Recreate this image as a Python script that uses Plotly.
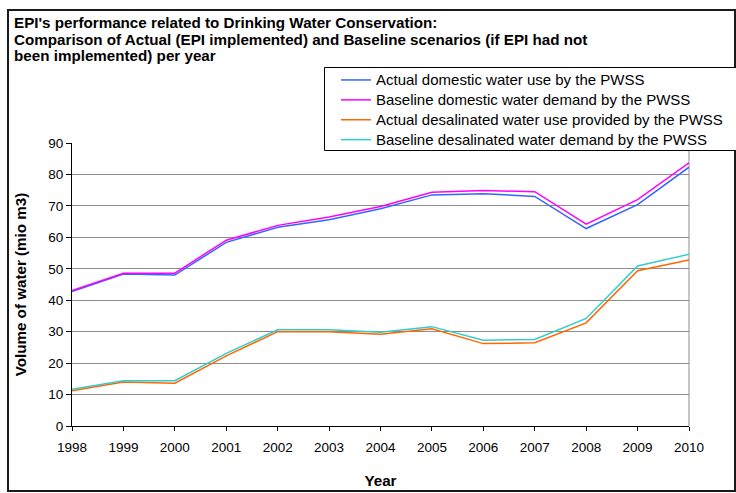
import plotly.graph_objects as go

years = [1998, 1999, 2000, 2001, 2002, 2003, 2004, 2005, 2006, 2007, 2008, 2009, 2010]
actual_domestic = [42.8, 48.3, 48.0, 58.4, 63.2, 65.6, 69.1, 73.5, 73.9, 73.0, 62.8, 70.4, 82.3]
baseline_domestic = [43.1, 48.6, 48.6, 59.1, 63.8, 66.5, 69.8, 74.3, 74.9, 74.5, 64.2, 72.0, 83.7]
actual_desal = [11.2, 14.0, 13.6, 22.3, 30.0, 30.0, 29.2, 30.9, 26.2, 26.5, 32.8, 49.4, 52.8]
baseline_desal = [11.7, 14.4, 14.4, 23.1, 30.6, 30.6, 29.8, 31.6, 27.3, 27.5, 34.2, 50.9, 54.6]

series_names = [
    "Actual domestic water use by the PWSS",
    "Baseline domestic water demand by the PWSS",
    "Actual desalinated water use provided by the PWSS",
    "Baseline desalinated water demand by the PWSS",
]
series_colors = ["#3366FF", "#FF00FF", "#FF6600", "#33CCCC"]
series_values = [actual_domestic, baseline_domestic, actual_desal, baseline_desal]

title_lines = [
    "EPI's performance related to Drinking Water Conservation:",
    "Comparison of Actual (EPI implemented) and Baseline scenarios (if EPI had not",
    "been implemented) per year",
]

FONT = "Arial, Liberation Sans, sans-serif"
W, H = 736, 493
L, R, T, B = 72, 47, 143, 67
pw, ph = W - L - R, H - T - B

def px2x(px):
    return (px - L) / pw

def py2y(py):
    return (H - B - py) / ph

fig = go.Figure()
for name, color, vals in zip(series_names, series_colors, series_values):
    fig.add_trace(go.Scatter(
        x=years, y=vals, mode="lines",
        name='<span style="font-size:15px">' + name + '</span>',
        line=dict(color=color, width=1.5)))

shapes = [
    dict(type="line", xref="paper", yref="paper", x0=1, x1=1, y0=0, y1=1,
         line=dict(color="#8c8c8c", width=1), layer="below"),
    dict(type="rect", xref="paper", yref="paper",
         x0=px2x(8), x1=px2x(735), y0=py2y(10), y1=py2y(491),
         line=dict(color="#1a1a1a", width=2), fillcolor="rgba(0,0,0,0)", layer="above"),
    dict(type="rect", xref="paper", yref="paper",
         x0=px2x(324.5), x1=px2x(745), y0=py2y(67.5), y1=py2y(150.5),
         line=dict(color="#000000", width=1), fillcolor="white", layer="above"),
]

annotations = []
for i, line in enumerate(title_lines):
    annotations.append(dict(
        text=line, xref="paper", yref="paper",
        x=px2x(12), y=py2y(22.5 + 16.5 * i), xanchor="left", yanchor="middle",
        showarrow=False, font=dict(family=FONT, size=15.2, color="black", weight="bold"),
    ))

fig.update_layout(
    width=W, height=H,
    margin=dict(l=L, r=R, t=T, b=B, autoexpand=False),
    paper_bgcolor="white", plot_bgcolor="white",
    font=dict(family=FONT, size=13, color="black"),
    xaxis=dict(
        range=[1998, 2010], dtick=1, tick0=1998,
        showgrid=False, zeroline=False,
        showline=True, linecolor="black", linewidth=1,
        ticks="outside", ticklen=4, tickcolor="black",
        tickfont=dict(family=FONT, size=13.5), ticklabelstandoff=5,
        title=dict(text="Year", font=dict(family=FONT, size=15.2, weight="bold"), standoff=21),
        automargin=False,
    ),
    yaxis=dict(
        range=[0, 90], dtick=10,
        showgrid=True, gridcolor="#8c8c8c", gridwidth=1, zeroline=False,
        showline=True, linecolor="black", linewidth=1,
        ticks="outside", ticklen=5, tickcolor="black",
        tickfont=dict(family=FONT, size=13.5),
        title=dict(text="Volume of water (mio m3)", font=dict(family=FONT, size=15.2, weight="bold"), standoff=17),
        automargin=False,
    ),
    legend=dict(
        x=px2x(336), y=py2y(65), xanchor="left", yanchor="top",
        bgcolor="rgba(0,0,0,0)", borderwidth=0,
        font=dict(family=FONT, size=13, color="black"),
        itemwidth=30, tracegroupgap=0,
    ),
    shapes=shapes,
    annotations=annotations,
)

fig.write_html("out.html")
